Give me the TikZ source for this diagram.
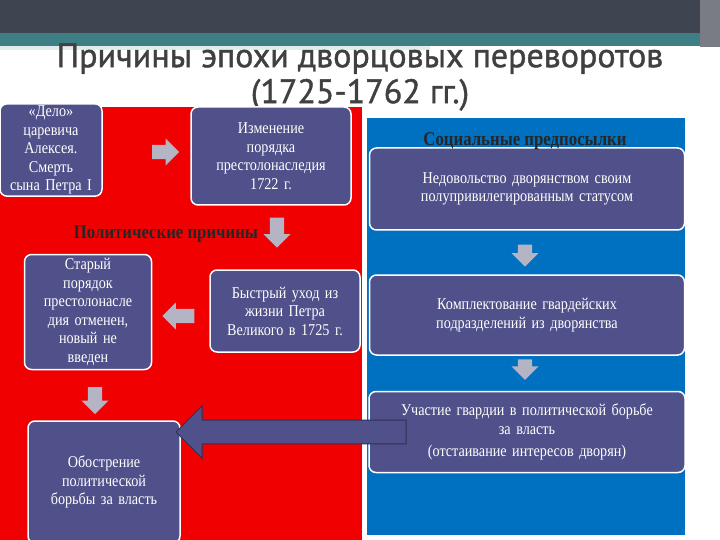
\documentclass[tikz,border=0pt]{standalone}
\usepackage{fontspec}
\setmainfont{Liberation Serif}[FakeStretch=0.86]
\newfontfamily\titlefont{PT Sans}[FakeBold=1.2]
\usetikzlibrary{shapes.arrows}
\definecolor{boxc}{HTML}{50508A}
\definecolor{redc}{HTML}{F00000}
\definecolor{bluec}{HTML}{0070C0}
\definecolor{arrc}{HTML}{B4B4C4}
\definecolor{barc}{HTML}{3F4451}
\definecolor{tealc}{HTML}{3E7F86}
\begin{document}
\begin{tikzpicture}[x=1pt,y=-1pt,
  box/.style={draw=white,line width=1.5pt,fill=boxc,rounded corners=7pt,text=white,align=center,font=\fontsize{16.5}{18.5}\selectfont,inner sep=2pt},
  garrow/.style={single arrow,fill=arrc,draw=none,minimum width=27pt,inner sep=6.5pt,single arrow head extend=6pt,single arrow head indent=0pt},
  hdr/.style={font=\bfseries\fontsize{19.5}{21}\selectfont,text=black!85}]
\useasboundingbox (0,0) rectangle (720,540);
\fill[white] (0,0) rectangle (720,540);
\fill[barc] (0,0) rectangle (720,33);
\fill[tealc] (0,33) rectangle (700,46);
\fill[white!85!tealc] (0,46) rectangle (430,50);
\fill[barc!70] (700,0) rectangle (720,47);
\node[font=\titlefont\fontsize{34}{36}\selectfont,text=black!75,align=center] (title) at (360,77) {Причины эпохи дворцовых переворотов\\(1725-1762 гг.)};
\fill[redc] (0,107) rectangle (362,540);
\fill[bluec] (367,118) rectangle (685,535);
\node[box,minimum width=98pt,minimum height=76pt,text width=98pt] (delo) at (51,150) {«Дело»\\царевича\\Алексея. Смерть\\сына Петра I};
\node[box,minimum width=160pt,minimum height=98pt,text width=150pt] (izm) at (271,156) {Изменение\\порядка\\престолонаследия\\1722 г.};
\node[box,minimum width=127pt,minimum height=115pt,text width=123pt] (star) at (88,312) {Старый\\порядок\\престолонасле\\дия отменен,\\новый не\\введен};
\node[box,minimum width=150pt,minimum height=82pt,text width=146pt] (bystr) at (285,311) {Быстрый уход из\\жизни Петра\\Великого в 1725 г.};
\node[box,minimum width=152pt,minimum height=122pt,text width=146pt] (obostr) at (104,482) {Обострение\\политической\\борьбы за власть};
\node[box,minimum width=315pt,minimum height=82pt,text width=305pt] (nedov) at (527,189) {Недовольство дворянством своим\\полупривилегированным статусом};
\node[box,minimum width=315pt,minimum height=80pt,text width=305pt] (kompl) at (527,315) {Комплектование гвардейских\\подразделений из дворянства};
\node[box,minimum width=315pt,minimum height=81pt,text width=312pt] (uch) at (527,432) {Участие гвардии в политической борьбе\\за власть\\[4pt](отстаивание интересов дворян)};
\node[hdr] (soc) at (525,141) {Социальные предпосылки};
\node[hdr] (pol) at (166,234) {Политические причины};
\node[garrow,minimum height=27pt] (a1) at (162,152) {};
\node[garrow,minimum height=30pt,shape border rotate=270] (a2) at (277,229) {};
\node[garrow,minimum height=32pt,shape border rotate=180] (a3) at (182,316) {};
\node[garrow,minimum height=27pt,shape border rotate=270] (a4) at (95,397) {};
\node[garrow,minimum height=22pt,shape border rotate=270] (a5) at (525,252) {};
\node[garrow,minimum height=20pt,shape border rotate=270] (a6) at (525,366) {};
\node[single arrow,fill=boxc,draw=boxc!60!black,line width=1pt,shape border rotate=180,minimum width=52pt,inner sep=8pt,single arrow head extend=10pt,single arrow head indent=0pt,minimum height=230pt] (big) at (297,432) {};
\end{tikzpicture}
\end{document}
